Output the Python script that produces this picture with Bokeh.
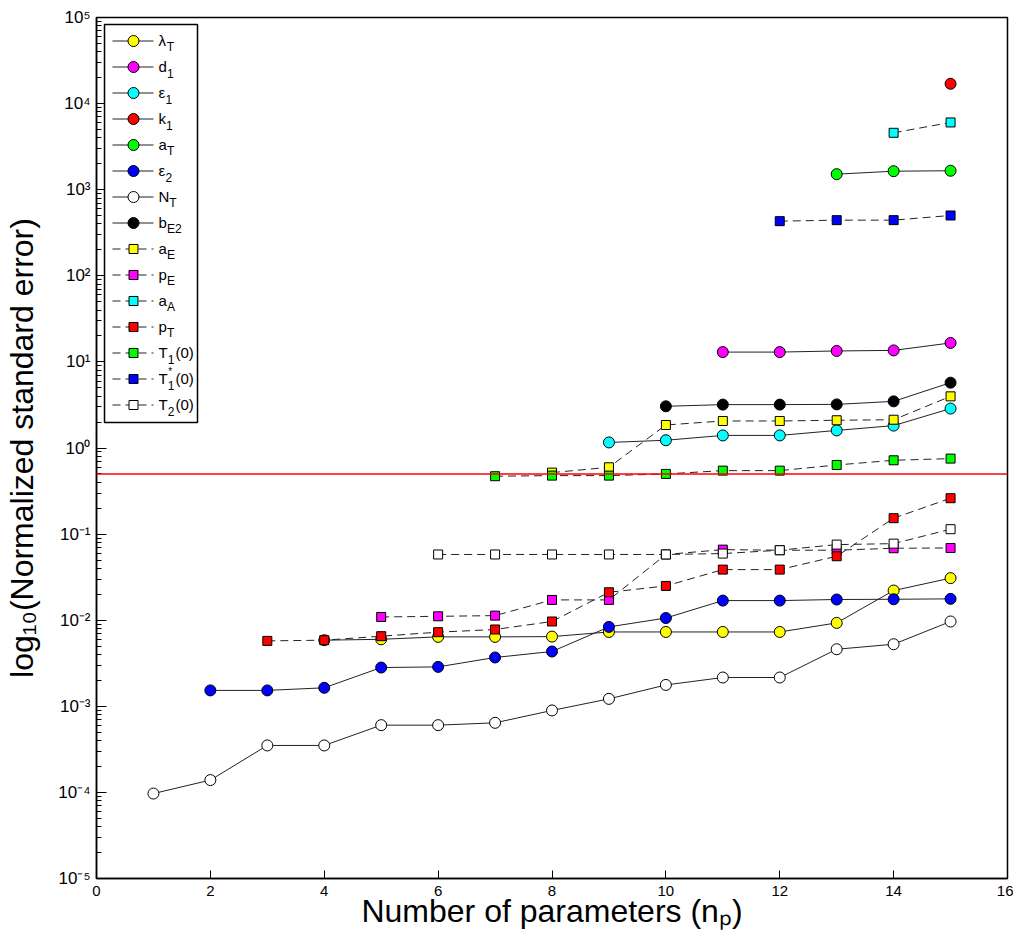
from bokeh.plotting import figure
from bokeh.models import (Range1d, LinearScale, FixedTicker, CustomJSTickFormatter,
                          Span, ColumnDataSource)
from bokeh.core.properties import value
from bokeh.embed import file_html
from bokeh.resources import INLINE

FONT = "Liberation Sans"

# ---------------- data ----------------
x_lambda_T = list(range(4, 16))
lambda_T = [0.00586, 0.0060, 0.0064, 0.0064, 0.00645, 0.0073, 0.0073, 0.0073, 0.0073, 0.0093, 0.0221, 0.0308]

x_d_1 = list(range(11, 16))
d_1 = [13.0, 13.0, 13.4, 13.6, 16.6]

x_eps_1 = list(range(9, 16))
eps_1 = [1.16, 1.23, 1.40, 1.40, 1.60, 1.82, 2.87]

x_k_1 = [15]
k_1 = [17000]

x_a_T = [13, 14, 15]
a_T = [1515, 1640, 1660]

x_eps_2 = list(range(2, 16))
eps_2 = [1.53e-3, 1.53e-3, 1.64e-3, 2.82e-3, 2.87e-3, 3.69e-3, 4.33e-3, 8.36e-3,
         1.06e-2, 1.69e-2, 1.69e-2, 1.74e-2, 1.75e-2, 1.77e-2]

x_N_T = list(range(1, 16))
N_T = [9.7e-5, 1.39e-4, 3.51e-4, 3.51e-4, 6.04e-4, 6.04e-4, 6.43e-4, 8.95e-4,
       1.22e-3, 1.77e-3, 2.16e-3, 2.16e-3, 4.6e-3, 5.26e-3, 9.66e-3]

x_b_E2 = list(range(10, 16))
b_E2 = [3.05, 3.19, 3.19, 3.21, 3.48, 5.74]

x_a_E = list(range(8, 16))
a_E = [0.518, 0.597, 1.85, 2.06, 2.06, 2.10, 2.13, 3.98]

x_p_E = list(range(5, 16))
p_E = [1.09e-2, 1.11e-2, 1.13e-2, 1.72e-2, 1.72e-2, 5.8e-2, 6.6e-2, 6.5e-2, 6.5e-2, 6.85e-2, 6.9e-2]

x_a_A = [14, 15]
a_A = [4580, 6040]

x_p_T = list(range(3, 16))
p_T = [5.75e-3, 5.86e-3, 6.52e-3, 7.26e-3, 7.8e-3, 9.66e-3, 2.11e-2, 2.5e-2,
       3.87e-2, 3.87e-2, 5.53e-2, 0.153, 0.261]

x_T1_0 = list(range(7, 16))
T1_0 = [0.47, 0.478, 0.478, 0.50, 0.546, 0.546, 0.635, 0.72, 0.753]

x_T1s_0 = [12, 13, 14, 15]
T1s_0 = [431, 443, 443, 502]

x_T2_0 = list(range(6, 16))
T2_0 = [0.058, 0.058, 0.058, 0.058, 0.058, 0.0594, 0.065, 0.0755, 0.0775, 0.114]

threshold = 0.5

x_ticks = list(range(0, 17, 2))
y_exponents = list(range(-5, 6))

# legend labels: (main, subscript, superscript, tail)
labels = [
    ("λ", "T", "", ""), ("d", "1", "", ""), ("ε", "1", "", ""), ("k", "1", "", ""),
    ("a", "T", "", ""), ("ε", "2", "", ""), ("N", "T", "", ""), ("b", "E2", "", ""),
    ("a", "E", "", ""), ("p", "E", "", ""), ("a", "A", "", ""), ("p", "T", "", ""),
    ("T", "1", "", "(0)"), ("T", "1", "*", "(0)"), ("T", "2", "", "(0)"),
]

series = [
    (x_lambda_T, lambda_T, "circle", "#ffff00", False),
    (x_d_1, d_1, "circle", "#ff00ff", False),
    (x_eps_1, eps_1, "circle", "#00ffff", False),
    (x_k_1, k_1, "circle", "#ff0000", False),
    (x_a_T, a_T, "circle", "#00ff00", False),
    (x_eps_2, eps_2, "circle", "#0000ff", False),
    (x_N_T, N_T, "circle", "#ffffff", False),
    (x_b_E2, b_E2, "circle", "#000000", False),
    (x_a_E, a_E, "square", "#ffff00", True),
    (x_p_E, p_E, "square", "#ff00ff", True),
    (x_a_A, a_A, "square", "#00ffff", True),
    (x_p_T, p_T, "square", "#ff0000", True),
    (x_T1_0, T1_0, "square", "#00ff00", True),
    (x_T1s_0, T1s_0, "square", "#0000ff", True),
    (x_T2_0, T2_0, "square", "#ffffff", True),
]

# ---------------- figure ----------------
FW, FH = 911, 861
p = figure(frame_width=FW, frame_height=FH,
           x_range=Range1d(0, 16), y_range=Range1d(1e-5, 1e5), y_axis_type="log",
           output_backend="svg", toolbar_location=None,
           min_border_left=96, min_border_right=6, min_border_top=17, min_border_bottom=58)
p.background_fill_color = "white"
p.border_fill_color = "white"
p.outline_line_color = "black"
p.outline_line_width = 1.5
p.xgrid.visible = False
p.ygrid.visible = False

p.extra_x_ranges = {"lx": Range1d(0, FW)}
p.extra_y_ranges = {"ly": Range1d(FH, 0)}
p.extra_x_scales = {"lx": LinearScale()}
p.extra_y_scales = {"ly": LinearScale()}

# axes
p.xaxis.ticker = FixedTicker(ticks=x_ticks, minor_ticks=[])
p.yaxis.ticker = FixedTicker(ticks=[10.0 ** e for e in y_exponents],
                             minor_ticks=[m * 10.0 ** e for e in y_exponents[:-1] for m in range(2, 10)])
p.yaxis.formatter = CustomJSTickFormatter(code="""
const e = Math.round(Math.log10(tick));
const sup = {'-':'\u207b','0':'\u2070','1':'\u00b9','2':'\u00b2','3':'\u00b3','4':'\u2074','5':'\u2075','6':'\u2076','7':'\u2077','8':'\u2078','9':'\u2079'};
return '10' + String(e).split('').map(c => sup[c]).join('');
""")
for ax in (p.xaxis[0], p.yaxis[0]):
    ax.axis_line_color = "black"
    ax.axis_line_width = 1.5
    ax.major_tick_line_color = "black"
    ax.minor_tick_line_color = "black"
    ax.major_tick_out = 0
    ax.minor_tick_out = 0
    ax.major_label_text_font = FONT
    ax.major_label_text_color = "black"
    ax.axis_label_text_font = FONT
    ax.axis_label_text_font_size = "32px"
    ax.axis_label_text_font_style = "normal"
    ax.axis_label_text_color = "black"
p.xaxis.major_label_text_font_size = "15px"
p.yaxis.major_label_text_font_size = "17px"
p.xaxis.major_tick_in = 8
p.yaxis.major_tick_in = 10
p.yaxis.minor_tick_in = 5
p.xaxis.major_label_standoff = 7
p.yaxis.major_label_standoff = 6
p.xaxis.axis_label = "Number of parameters (n\u209a)"
p.yaxis.axis_label = "log\u2081\u2080(Normalized standard error)"
p.xaxis.axis_label_standoff = -6
p.yaxis.axis_label_standoff = 15

# threshold line
p.add_layout(Span(location=threshold, dimension="width", line_color="#ff0000", line_width=1.5))

# data series
for xs, ys, mk, col, dashed in series:
    src = ColumnDataSource(dict(x=xs, y=ys))
    p.line("x", "y", source=src, line_color="#222222", line_width=1,
           line_dash="8 5" if dashed else "solid")
    p.scatter("x", "y", source=src, marker=mk, size=11 if mk == "circle" else 9,
              fill_color=col, line_color="black", line_width=1)

# ---------------- legend (drawn in frame pixel space) ----------------
LEG_L, LEG_R, LEG_T, LEG_B = 8, 101, 7, 405
p.quad(left=[LEG_L], right=[LEG_R], top=[LEG_T], bottom=[LEG_B],
       fill_color="white", line_color="black", line_width=1.5,
       x_range_name="lx", y_range_name="ly", level="overlay")

main_w = {"λ": 8.2, "d": 8.4, "ε": 7.0, "k": 7.5, "a": 8.4, "N": 10.8, "b": 8.4, "p": 8.4, "T": 9.2}
sub_w = {"T": 7.3, "1": 6.7, "2": 6.7, "E": 8.0, "E2": 14.7, "A": 8.0}

ys_leg = [23.5 + 26 * i for i in range(len(series))]
seg_solid = dict(x0=[], x1=[], y0=[], y1=[])
seg_dash = dict(x0=[], x1=[], y0=[], y1=[])
for (xs, ys, mk, col, dashed), yl in zip(series, ys_leg):
    d = seg_dash if dashed else seg_solid
    d["x0"].append(16); d["x1"].append(57); d["y0"].append(yl); d["y1"].append(yl)
p.segment(x0="x0", x1="x1", y0="y0", y1="y1", source=ColumnDataSource(seg_solid),
          line_color="#222222", line_width=1, x_range_name="lx", y_range_name="ly", level="overlay")
p.segment(x0="x0", x1="x1", y0="y0", y1="y1", source=ColumnDataSource(seg_dash),
          line_color="#222222", line_width=1, line_dash="8 5",
          x_range_name="lx", y_range_name="ly", level="overlay")
for mk, sz in (("circle", 11), ("square", 9)):
    idx = [i for i, s in enumerate(series) if s[2] == mk]
    p.scatter(x=[37] * len(idx), y=[ys_leg[i] for i in idx], marker=mk, size=sz,
              fill_color=[series[i][3] for i in idx], line_color="black", line_width=1,
              x_range_name="lx", y_range_name="ly", level="overlay")

mt = dict(x=[], y=[], t=[])
st = dict(x=[], y=[], t=[])
pt = dict(x=[], y=[], t=[])
for (main, sub, sup, tail), yl in zip(labels, ys_leg):
    x0 = 62
    mt["x"].append(x0); mt["y"].append(yl - 1); mt["t"].append(main)
    xs_ = x0 + main_w[main]
    st["x"].append(xs_); st["y"].append(yl + 6); st["t"].append(sub)
    if sup:
        pt["x"].append(xs_ + 0.5); pt["y"].append(yl - 8); pt["t"].append(sup)
    if tail:
        mt["x"].append(xs_ + sub_w[sub] + 1); mt["y"].append(yl - 1); mt["t"].append(tail)
p.text(x="x", y="y", text="t", source=ColumnDataSource(mt), text_font=value(FONT),
       text_font_size="15px", text_baseline="alphabetic", text_align="left", text_color="black",
       x_range_name="lx", y_range_name="ly", level="overlay")
p.text(x="x", y="y", text="t", source=ColumnDataSource(st), text_font=value(FONT),
       text_font_size="12px", text_baseline="alphabetic", text_align="left", text_color="black",
       x_range_name="lx", y_range_name="ly", level="overlay")
p.text(x="x", y="y", text="t", source=ColumnDataSource(pt), text_font=value(FONT),
       text_font_size="10px", text_baseline="alphabetic", text_align="left", text_color="black",
       x_range_name="lx", y_range_name="ly", level="overlay")

open("out.html", "w").write(file_html(p, INLINE))
